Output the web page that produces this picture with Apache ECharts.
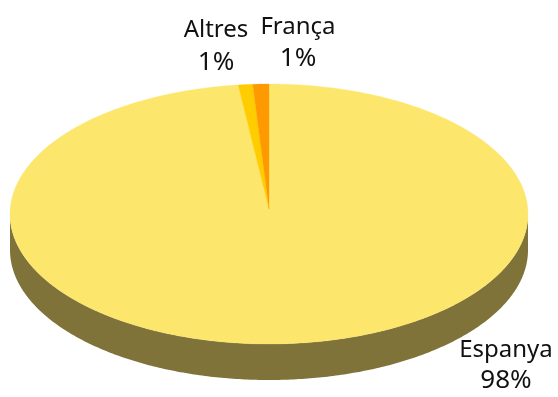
<!DOCTYPE html>
<html><head><meta charset="utf-8">
<style>html,body{margin:0;padding:0;background:#fff}#c{width:558px;height:397px}</style>
<script src="https://cdn.jsdelivr.net/npm/echarts@6/dist/echarts.min.js"></script>
</head><body><div id="c"></div>
<script>
const categories = ['Espanya', 'Altres', 'França'];
const values = [98.1, 0.9, 1.0];
const percentLabels = ['98%', '1%', '1%'];
const colors = ['#FCE66C', '#FFCC00', '#FF9900'];
const sideColor = '#7F7339';

const chart = echarts.init(document.getElementById('c'), null, {renderer: 'canvas'});
const cx = 269, cy = 214, rx = 259, ry = 130, depth = 36, apexY = 209;
const total = values.reduce((a, b) => a + b, 0);
function arc(a0, a1, dy) {
  const pts = [], n = Math.max(2, Math.ceil((a1 - a0) * 90));
  for (let i = 0; i <= n; i++) {
    const a = a0 + (a1 - a0) * i / n;
    pts.push([cx + rx * Math.sin(a), cy - ry * Math.cos(a) + dy]);
  }
  return pts;
}
const labelPos = [[506, 350, 381], [216, 30, 63], [298, 27, 59]];
chart.setOption({
  animation: false,
  series: [{
    type: 'custom',
    coordinateSystem: 'none',
    silent: true,
    data: values,
    clip: false,
    renderItem(params, api) {
      if (params.dataIndex !== 0) return;
      const children = [];
      const top = arc(Math.PI / 2, Math.PI * 1.5, 0);
      const bot = arc(Math.PI / 2, Math.PI * 1.5, depth).reverse();
      children.push({type: 'polygon', shape: {points: top.concat(bot)}, style: {fill: sideColor}});
      let acc = 0;
      values.forEach((v, i) => {
        const a0 = acc / total * Math.PI * 2;
        acc += v;
        const a1 = acc / total * Math.PI * 2;
        children.push({
          type: 'polygon',
          shape: {points: [[cx, apexY]].concat(arc(a0, a1, 0))},
          style: {fill: colors[i], stroke: colors[i], lineWidth: 0.3}
        });
      });
      categories.forEach((c, i) => {
        const common = {align: 'center', verticalAlign: 'middle', fill: '#111', x: labelPos[i][0]};
        children.push({
          type: 'text',
          style: Object.assign({}, common, {text: c, y: labelPos[i][1], font: '24px "Noto Sans", sans-serif'})
        });
        children.push({
          type: 'text',
          style: Object.assign({}, common, {text: percentLabels[i], y: labelPos[i][2], font: '26px "Noto Sans", sans-serif'})
        });
      });
      return {type: 'group', children};
    }
  }]
});
</script></body></html>
